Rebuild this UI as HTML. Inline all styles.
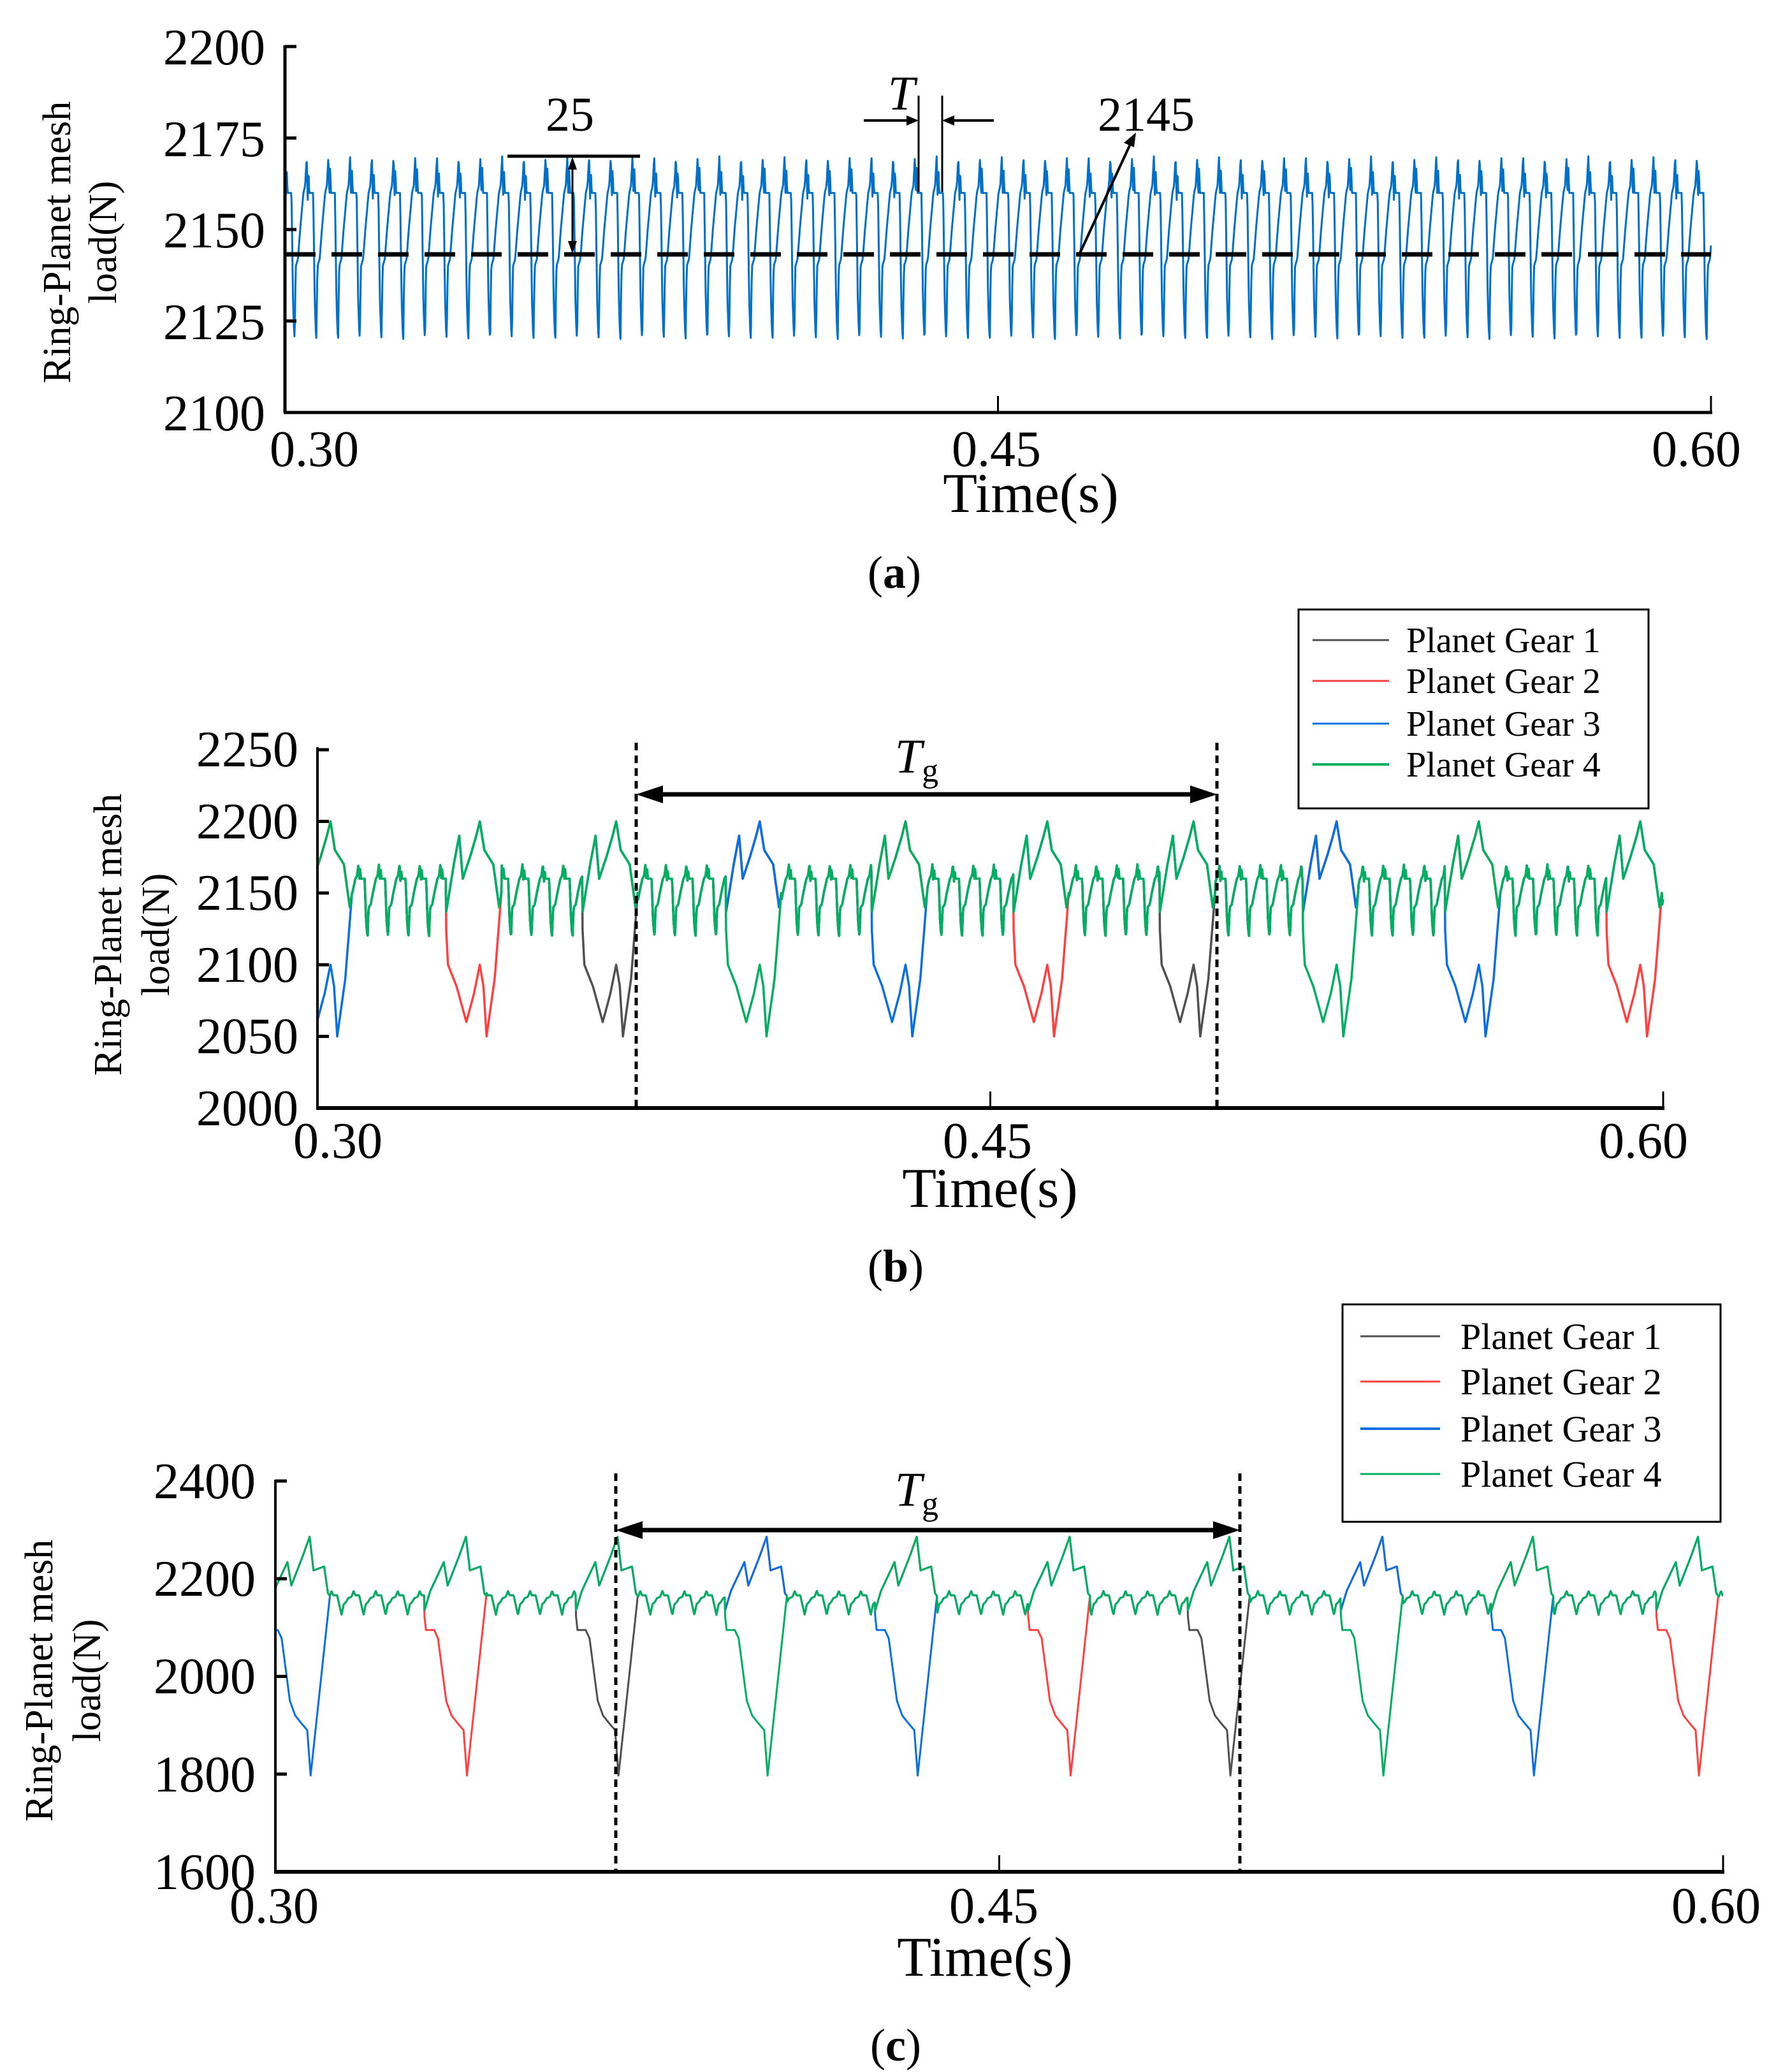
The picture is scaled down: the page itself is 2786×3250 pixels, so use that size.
<!DOCTYPE html>
<html><head><meta charset="utf-8"><style>
html,body{margin:0;padding:0;background:#fff;}
svg{display:block;font-family:"Liberation Serif",serif;}
</style></head><body>
<svg id="fig" width="2786" height="3250" viewBox="0 0 2786 3250" xmlns="http://www.w3.org/2000/svg">
<rect width="2786" height="3250" fill="#fff"/>
<!-- Panel A -->
<g id="pa">
 <g id="pa-series"></g>
 <line x1="447" y1="399" x2="2684" y2="399" stroke="#000" stroke-width="7" stroke-dasharray="48,25"/>
 <line x1="447" y1="71" x2="447" y2="647" stroke="#000" stroke-width="5"/>
 <line x1="445" y1="647" x2="2686" y2="647" stroke="#000" stroke-width="5"/>
 <g id="pa-ticks"></g>
 <line x1="796" y1="245" x2="1004" y2="245" stroke="#000" stroke-width="5"/>
 <line x1="898" y1="258" x2="898" y2="385" stroke="#000" stroke-width="3"/>
 <polygon points="898,246 891,266 905,266" fill="#000"/>
 <polygon points="898,398 891,378 905,378" fill="#000"/>
 <text x="894" y="205" font-size="76" text-anchor="middle">25</text>
 <line x1="1441" y1="150" x2="1441" y2="301" stroke="#000" stroke-width="3"/>
 <line x1="1478" y1="150" x2="1478" y2="301" stroke="#000" stroke-width="3"/>
 <line x1="1355" y1="189" x2="1430" y2="189" stroke="#000" stroke-width="4"/>
 <polygon points="1441,189 1422,181 1422,197" fill="#000"/>
 <line x1="1489" y1="189" x2="1559" y2="189" stroke="#000" stroke-width="4"/>
 <polygon points="1478,189 1497,181 1497,197" fill="#000"/>
 <text x="1414" y="172" font-size="76" font-style="italic" text-anchor="middle">T</text>
 <line x1="1694" y1="397" x2="1775" y2="222" stroke="#000" stroke-width="4"/>
 <polygon points="1782,208 1763,224 1779,231" fill="#000"/>
 <text x="1798" y="205" font-size="76" text-anchor="middle">2145</text>
 <text x="416" y="101" font-size="80" text-anchor="end">2200</text>
 <text x="416" y="245" font-size="80" text-anchor="end">2175</text>
 <text x="416" y="388" font-size="80" text-anchor="end">2150</text>
 <text x="416" y="532" font-size="80" text-anchor="end">2125</text>
 <text x="416" y="675" font-size="80" text-anchor="end">2100</text>
 <text x="493" y="731" font-size="80" text-anchor="middle">0.30</text>
 <text x="1563" y="731" font-size="80" text-anchor="middle">0.45</text>
 <text x="2661" y="731" font-size="80" text-anchor="middle">0.60</text>
 <text x="1617" y="803" font-size="88" text-anchor="middle">Time(s)</text>
 <text transform="translate(90,380) rotate(-90)" font-size="62" text-anchor="middle" dominant-baseline="central">Ring-Planet mesh</text>
 <text transform="translate(162,380) rotate(-90)" font-size="62" text-anchor="middle" dominant-baseline="central">load(N)</text>
 <text x="1403" y="922" font-size="72" text-anchor="middle">(<tspan font-weight="bold">a</tspan>)</text>
</g>
<!-- Panel B -->
<g id="pb">
 <g id="pb-series"></g>
 <line x1="498" y1="1172" x2="498" y2="1738" stroke="#000" stroke-width="4"/>
 <line x1="496" y1="1738" x2="2611" y2="1738" stroke="#000" stroke-width="6"/>
 <g id="pb-ticks"></g>
 <line x1="998" y1="1165" x2="998" y2="1737" stroke="#000" stroke-width="5" stroke-dasharray="12,8"/>
 <line x1="1909" y1="1165" x2="1909" y2="1737" stroke="#000" stroke-width="5" stroke-dasharray="12,8"/>
 <line x1="1030" y1="1246" x2="1877" y2="1246" stroke="#000" stroke-width="7"/>
 <polygon points="998,1246 1040,1232 1040,1260" fill="#000"/>
 <polygon points="1909,1246 1867,1232 1867,1260" fill="#000"/>
 <text x="1438" y="1212" font-size="76" font-style="italic" text-anchor="middle">T<tspan font-style="normal" font-size="52" dy="14">g</tspan></text>
 <text x="468" y="1202" font-size="80" text-anchor="end">2250</text>
 <text x="468" y="1315" font-size="80" text-anchor="end">2200</text>
 <text x="468" y="1427" font-size="80" text-anchor="end">2150</text>
 <text x="468" y="1540" font-size="80" text-anchor="end">2100</text>
 <text x="468" y="1652" font-size="80" text-anchor="end">2050</text>
 <text x="468" y="1765" font-size="80" text-anchor="end">2000</text>
 <text x="530" y="1816" font-size="80" text-anchor="middle">0.30</text>
 <text x="1549" y="1816" font-size="80" text-anchor="middle">0.45</text>
 <text x="2578" y="1816" font-size="80" text-anchor="middle">0.60</text>
 <text x="1553" y="1893" font-size="88" text-anchor="middle">Time(s)</text>
 <text transform="translate(170,1466) rotate(-90)" font-size="62" text-anchor="middle" dominant-baseline="central">Ring-Planet mesh</text>
 <text transform="translate(245,1466) rotate(-90)" font-size="62" text-anchor="middle" dominant-baseline="central">load(N)</text>
 <g>
  <rect x="2037" y="956" width="549" height="312" fill="#fff" stroke="#000" stroke-width="3"/>
  <line x1="2059" y1="1004" x2="2179" y2="1004" stroke="#505050" stroke-width="3"/>
  <text x="2206" y="1023" font-size="56">Planet Gear 1</text>
  <line x1="2059" y1="1068" x2="2179" y2="1068" stroke="#ff4040" stroke-width="3"/>
  <text x="2206" y="1087" font-size="56">Planet Gear 2</text>
  <line x1="2059" y1="1135" x2="2179" y2="1135" stroke="#0a6fe0" stroke-width="3"/>
  <text x="2206" y="1154" font-size="56">Planet Gear 3</text>
  <line x1="2059" y1="1199" x2="2179" y2="1199" stroke="#00b060" stroke-width="4"/>
  <text x="2206" y="1218" font-size="56">Planet Gear 4</text>
 </g>
 <text x="1405" y="2010" font-size="72" text-anchor="middle">(<tspan font-weight="bold">b</tspan>)</text>
</g>
<!-- Panel C -->
<g id="pc">
 <g id="pc-series"></g>
 <line x1="432" y1="2321" x2="432" y2="2936" stroke="#000" stroke-width="4"/>
 <line x1="430" y1="2936" x2="2705" y2="2936" stroke="#000" stroke-width="6"/>
 <g id="pc-ticks"></g>
 <line x1="966" y1="2311" x2="966" y2="2935" stroke="#000" stroke-width="5" stroke-dasharray="12,8"/>
 <line x1="1945" y1="2311" x2="1945" y2="2935" stroke="#000" stroke-width="5" stroke-dasharray="12,8"/>
 <line x1="998" y1="2400" x2="1913" y2="2400" stroke="#000" stroke-width="7"/>
 <polygon points="966,2400 1008,2386 1008,2414" fill="#000"/>
 <polygon points="1945,2400 1903,2386 1903,2414" fill="#000"/>
 <text x="1438" y="2362" font-size="76" font-style="italic" text-anchor="middle">T<tspan font-style="normal" font-size="52" dy="14">g</tspan></text>
 <text x="401" y="2350" font-size="80" text-anchor="end">2400</text>
 <text x="401" y="2503" font-size="80" text-anchor="end">2200</text>
 <text x="401" y="2656" font-size="80" text-anchor="end">2000</text>
 <text x="401" y="2810" font-size="80" text-anchor="end">1800</text>
 <text x="401" y="2963" font-size="80" text-anchor="end">1600</text>
 <text x="430" y="3016" font-size="80" text-anchor="middle">0.30</text>
 <text x="1559" y="3016" font-size="80" text-anchor="middle">0.45</text>
 <text x="2692" y="3016" font-size="80" text-anchor="middle">0.60</text>
 <text x="1545" y="3099" font-size="88" text-anchor="middle">Time(s)</text>
 <text transform="translate(62,2636) rotate(-90)" font-size="62" text-anchor="middle" dominant-baseline="central">Ring-Planet mesh</text>
 <text transform="translate(137,2636) rotate(-90)" font-size="62" text-anchor="middle" dominant-baseline="central">load(N)</text>
 <g>
  <rect x="2106" y="2046" width="593" height="341" fill="#fff" stroke="#000" stroke-width="3"/>
  <line x1="2134" y1="2096" x2="2259" y2="2096" stroke="#505050" stroke-width="3"/>
  <text x="2291" y="2116" font-size="58">Planet Gear 1</text>
  <line x1="2134" y1="2167" x2="2259" y2="2167" stroke="#ff4040" stroke-width="3"/>
  <text x="2291" y="2187" font-size="58">Planet Gear 2</text>
  <line x1="2134" y1="2241" x2="2259" y2="2241" stroke="#0a6fe0" stroke-width="4"/>
  <text x="2291" y="2261" font-size="58">Planet Gear 3</text>
  <line x1="2134" y1="2312" x2="2259" y2="2312" stroke="#00b060" stroke-width="3"/>
  <text x="2291" y="2332" font-size="58">Planet Gear 4</text>
 </g>
 <text x="1405" y="3232" font-size="72" text-anchor="middle">(<tspan font-weight="bold">c</tspan>)</text>
</g>
</svg>
<script>
// ---- shared data ----
var timeRange = [0.30, 0.60];
var meshPeriod = 0.00457;
// panel (a): one mesh cycle (phase, load N)
var cycleAPhase = [0, 0.05, 0.08, 0.12, 0.30, 0.33, 0.37, 0.42, 0.45, 0.47, 0.50, 0.60, 0.70, 0.85, 0.93, 1.0];
var cycleAValue = [2170, 2158, 2167, 2160, 2160, 2148, 2131, 2122, 2120, 2131, 2140, 2142, 2150, 2160, 2162, 2170];
var yTicksA = [2100, 2125, 2150, 2175, 2200];
// panel (b)
var cycleBPhase = [0, 0.05, 0.08, 0.12, 0.30, 0.33, 0.37, 0.42, 0.45, 0.47, 0.50, 0.60, 0.70, 0.85, 0.93, 1.0];
var cycleBValue = [2170, 2158, 2167, 2160, 2160, 2148, 2131, 2122, 2120, 2131, 2140, 2142, 2150, 2160, 2162, 2170];
var eventEndB = [0.3077, 0.341, 0.3714, 0.4034, 0.4359, 0.4675, 0.5001, 0.532, 0.5637, 0.5997];
var eventGearB = [3, 2, 1, 4, 3, 2, 1, 4, 3, 2];
var dipOffsetB = [-0.0124, -0.0119, -0.0100, -0.0078, -0.0061, -0.0048, -0.0040, -0.0033, -0.0015, 0];
var dipValueB = [2130, 2100, 2085, 2060, 2080, 2100, 2085, 2050, 2090, 2150];
var riseOffsetB = [-0.0124, -0.0106, -0.0094, -0.0086, -0.0070, -0.0056, -0.0048, -0.0038, -0.0018, -0.0005, 0];
var riseValueB = [2135, 2170, 2190, 2160, 2175, 2190, 2200, 2180, 2170, 2140, 2150];
var yTicksB = [2000, 2050, 2100, 2150, 2200, 2250];
// panel (c)
var cycleCPhase = [0, 0.10, 0.20, 0.30, 0.45, 0.55, 0.62, 0.80, 1.0];
var cycleCValue = [2126, 2148, 2152, 2160, 2163, 2175, 2166, 2166, 2126];
var eventEndC = [0.3113, 0.3437, 0.3751, 0.4060, 0.4371, 0.4688, 0.5019, 0.5336, 0.5648, 0.5990];
var eventGearC = [3, 2, 1, 4, 3, 2, 1, 4, 3, 2];
var dipOffsetC = [-0.0129, -0.0125, -0.0108, -0.0100, -0.0083, -0.0072, -0.0060, -0.0047, -0.0040, 0];
var dipValueC = [2132, 2095, 2095, 2078, 1950, 1920, 1905, 1890, 1797, 2165];
var riseOffsetC = [-0.0129, -0.0116, -0.0088, -0.0080, -0.0056, -0.0042, -0.0034, -0.0012, -0.0004, 0];
var riseValueC = [2132, 2175, 2234, 2186, 2247, 2286, 2217, 2225, 2170, 2165];
var yTicksC = [1600, 1800, 2000, 2200, 2400];
var gearColors = ['#505050', '#ff4040', '#0a6fe0', '#00b060'];

var NS = 'http://www.w3.org/2000/svg';
function interp(xs, ys, x) {
  if (x <= xs[0]) return ys[0];
  for (var i = 1; i < xs.length; i++) {
    if (x <= xs[i]) { var f = (x - xs[i-1]) / (xs[i] - xs[i-1]); return ys[i-1] + f * (ys[i] - ys[i-1]); }
  }
  return ys[ys.length-1];
}
function makeAxes(x0, x1, y0, y1, vmin, vmax) {
  return {
    x: function (t) { return x0 + (t - timeRange[0]) / (timeRange[1] - timeRange[0]) * (x1 - x0); },
    y: function (v) { return y0 - (v - vmin) / (vmax - vmin) * (y0 - y1); }
  };
}
function baseline(ph, pv, t) {
  var p = ((t - timeRange[0]) / meshPeriod) % 1;
  return interp(ph, pv, p);
}
function addPath(parent, d, color, w, name) {
  var p = document.createElementNS(NS, 'path');
  p.setAttribute('d', d);
  p.setAttribute('fill', 'none');
  p.setAttribute('stroke', color);
  p.setAttribute('stroke-width', w);
  p.setAttribute('stroke-linejoin', 'round');
  
  
  parent.appendChild(p);
}
function addTicks(gid, ax, yticks, xAxisY, yAxisX) {
  var g = document.getElementById(gid);
  yticks.forEach(function (v) {
    var l = document.createElementNS(NS, 'line');
    l.setAttribute('x1', yAxisX); l.setAttribute('x2', yAxisX + 18);
    l.setAttribute('y1', ax.y(v)); l.setAttribute('y2', ax.y(v));
    l.setAttribute('stroke', '#000'); l.setAttribute('stroke-width', 5);
    
    
    g.appendChild(l);
  });
  [0.45, 0.60].forEach(function (t) {
    var l = document.createElementNS(NS, 'line');
    l.setAttribute('x1', ax.x(t)); l.setAttribute('x2', ax.x(t));
    l.setAttribute('y1', xAxisY); l.setAttribute('y2', xAxisY - 26);
    l.setAttribute('stroke', '#000'); l.setAttribute('stroke-width', 3);
    
    
    g.appendChild(l);
  });
}
var STEP = 0.0001;
// panel a
(function () {
  var ax = makeAxes(447, 2684, 647, 73, 2100, 2200);
  var d = '';
  for (var t = timeRange[0]; t <= timeRange[1] + 1e-9; t += STEP) {
    d += (d ? 'L' : 'M') + ax.x(t).toFixed(1) + ',' + ax.y(baseline(cycleAPhase, cycleAValue, t)).toFixed(1);
  }
  addPath(document.getElementById('pa-series'), d, '#0070c8', 3, 'mesh-load-line');
  addTicks('pa-ticks', ax, yTicksA, 647, 447);
})();
function gearSeries(ax, gear, cph, cval, ends, gears, dOff, dVal, rOff, rVal) {
  var d = '';
  for (var t = timeRange[0]; t <= timeRange[1] + 1e-9; t += STEP) {
    var v = baseline(cph, cval, t);
    for (var k = 0; k < ends.length; k++) {
      var rel = t - ends[k];
      if (rel >= dOff[0] && rel <= 0) {
        v = (gears[k] === gear) ? interp(dOff, dVal, rel) : interp(rOff, rVal, rel);
      }
    }
    d += (d ? 'L' : 'M') + ax.x(t).toFixed(1) + ',' + ax.y(v).toFixed(1);
  }
  return d;
}
(function () {
  var ax = makeAxes(498, 2609, 1738, 1176, 2000, 2250);
  var g = document.getElementById('pb-series');
  for (var gear = 1; gear <= 4; gear++) {
    addPath(g, gearSeries(ax, gear, cycleBPhase, cycleBValue, eventEndB, eventGearB, dipOffsetB, dipValueB, riseOffsetB, riseValueB), gearColors[gear-1], 3.5, 'planet-gear-' + gear + '-line');
  }
  addTicks('pb-ticks', ax, yTicksB, 1738, 498);
})();
(function () {
  var ax = makeAxes(432, 2703, 2936, 2323, 1600, 2400);
  var g = document.getElementById('pc-series');
  for (var gear = 1; gear <= 4; gear++) {
    addPath(g, gearSeries(ax, gear, cycleCPhase, cycleCValue, eventEndC, eventGearC, dipOffsetC, dipValueC, riseOffsetC, riseValueC), gearColors[gear-1], 3, 'planet-gear-' + gear + '-line');
  }
  addTicks('pc-ticks', ax, yTicksC, 2936, 432);
})();
</script>
</body></html>
